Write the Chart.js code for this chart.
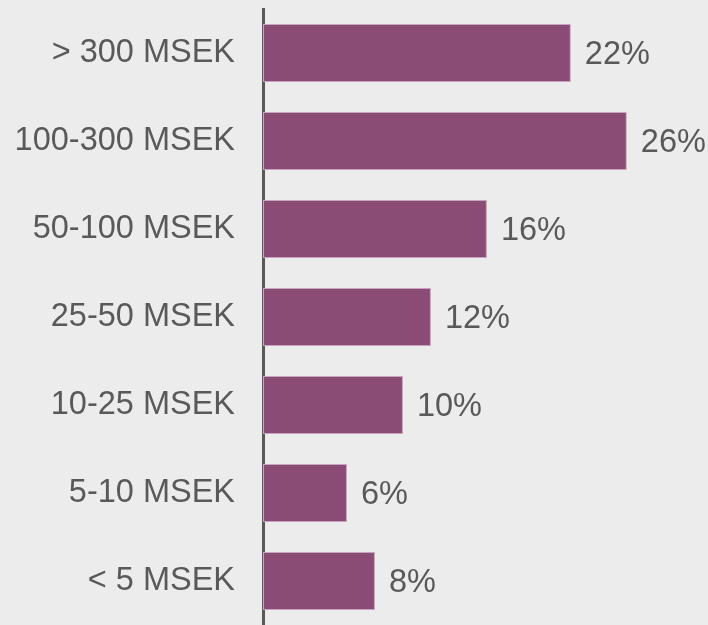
<!DOCTYPE html>
<html>
<head>
<meta charset="utf-8">
<script src="https://cdn.jsdelivr.net/npm/chart.js@4/dist/chart.umd.min.js"></script>
<style>
  html, body { margin: 0; padding: 0; background: #ececec; }
  #wrap { width: 708px; height: 625px; }
</style>
</head>
<body>
<div id="wrap"><canvas id="c" width="708" height="625"></canvas></div>
<script>
const categories = ["> 300 MSEK", "100-300 MSEK", "50-100 MSEK", "25-50 MSEK", "10-25 MSEK", "5-10 MSEK", "< 5 MSEK"];
const shares = [22, 26, 16, 12, 10, 6, 8];

const FONT = "'Liberation Sans', Arial, sans-serif";
const TEXT = "#595959";

const valueLabels = {
  id: "valueLabels",
  afterDatasetsDraw(chart) {
    const ctx = chart.ctx;
    const meta = chart.getDatasetMeta(0);
    ctx.save();
    ctx.font = "32.5px " + FONT;
    ctx.fillStyle = TEXT;
    ctx.textAlign = "left";
    ctx.textBaseline = "middle";
    meta.data.forEach((bar, i) => {
      ctx.fillText(shares[i] + "%", bar.x + 14, bar.y + 2);
    });
    ctx.restore();
  }
};

new Chart(document.getElementById("c"), {
  type: "bar",
  data: {
    labels: categories,
    datasets: [{
      data: shares,
      backgroundColor: "#8a4c74",
      borderColor: "#c9a2bb",
      borderWidth: 1,
      borderSkipped: false,
      categoryPercentage: 1,
      barPercentage: 0.66
    }]
  },
  options: {
    indexAxis: "y",
    responsive: false,
    animation: false,
    layout: { padding: { top: 9, right: 0, bottom: 0, left: 0 } },
    plugins: { legend: { display: false }, tooltip: { enabled: false } },
    scales: {
      x: {
        display: false,
        min: 0,
        max: 31.8
      },
      y: {
        grid: { display: false, drawTicks: false },
        border: { display: true, color: "#595959", width: 3 },
        ticks: {
          color: TEXT,
          font: { family: FONT, size: 32.5 },
          padding: 28
        },
        afterFit(scale) {
          scale.width = 263;
          scale.paddingTop = 0;
          scale.paddingBottom = 0;
        }
      }
    }
  },
  plugins: [valueLabels]
});
</script>
</body>
</html>
